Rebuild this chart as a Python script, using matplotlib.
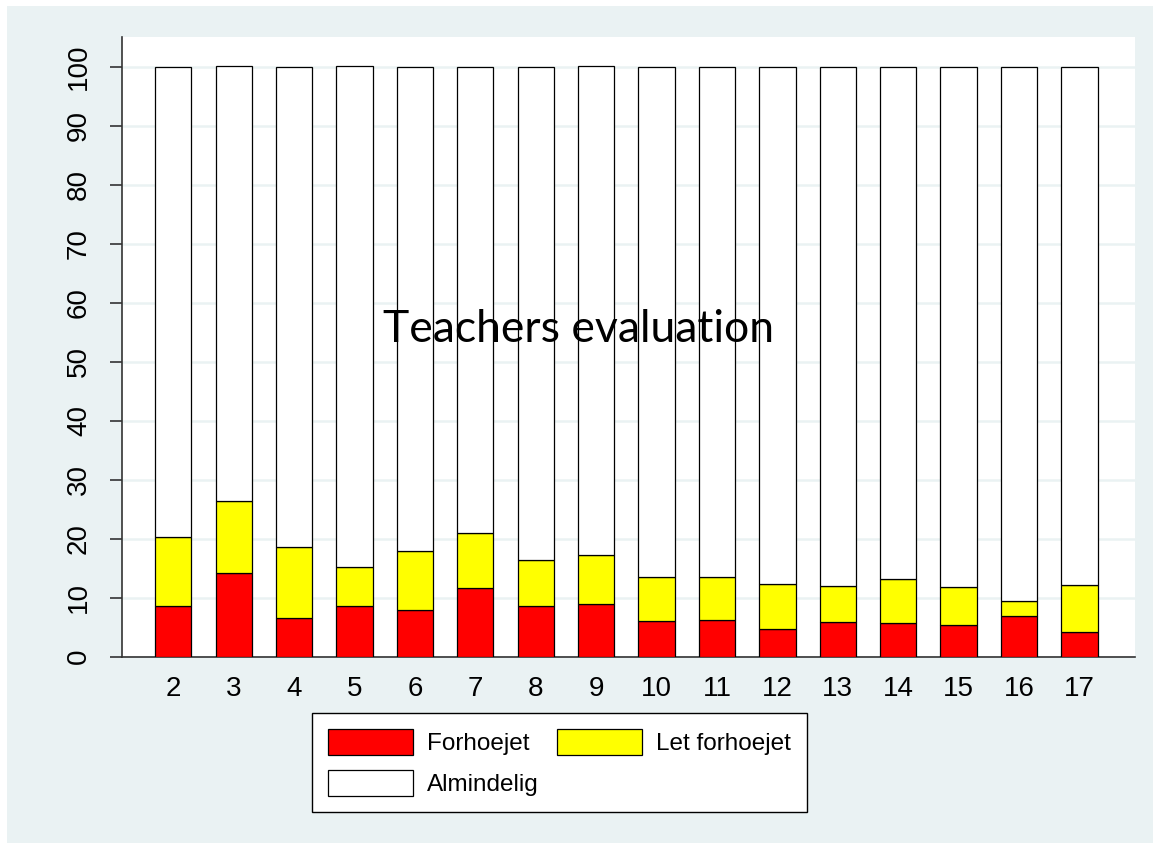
import numpy as np
import matplotlib
matplotlib.use('Agg')
import matplotlib.pyplot as plt
from matplotlib.patches import Rectangle

# Data (percent of pupils)
grades = [2, 3, 4, 5, 6, 7, 8, 9, 10, 11, 12, 13, 14, 15, 16, 17]
forhoejet = [8.6, 14.2, 6.6, 8.5, 7.8, 11.6, 8.5, 8.9, 6.1, 6.2, 4.7, 5.8, 5.6, 5.3, 6.9, 4.1]
top_of_let = [20.3, 26.3, 18.5, 15.1, 17.9, 20.9, 16.4, 17.2, 13.5, 13.4, 12.3, 11.9, 13.2, 11.7, 9.4, 12.2]
let_forhoejet = [t - f for t, f in zip(top_of_let, forhoejet)]
almindelig = [100 - t for t in top_of_let]

series_names = ['Forhoejet', 'Let forhoejet', 'Almindelig']
series_colors = ['#ff0000', '#ffff00', '#ffffff']
title_text = 'Teachers evaluation'

bg = '#eaf2f3'

plt.rcParams['font.family'] = ['Liberation Sans', 'DejaVu Sans']

fig = plt.figure(figsize=(11.53, 8.43), dpi=100, facecolor='white')
fig.patches.append(Rectangle((7 / 1153, 0), 1, 1 - 6 / 843, transform=fig.transFigure,
                             facecolor=bg, edgecolor='none', zorder=-10))

ax = fig.add_axes([122 / 1153, 1 - 656.5 / 843, (1135 - 122) / 1153, (656.5 - 37) / 843])
ax.set_facecolor('white')

x = np.array(grades)
bottom = np.zeros(len(grades))
handles = []
for name, vals, col in zip(series_names, [forhoejet, let_forhoejet, almindelig], series_colors):
    h = ax.bar(x, vals, width=0.6, bottom=bottom, color=col, edgecolor='black',
               linewidth=0.9, label=name, zorder=3)
    handles.append(h)
    bottom = bottom + np.array(vals)

ax.set_xlim(1.15, 17.92)
ax.set_ylim(0, 105)
ax.set_yticks(np.arange(0, 101, 10))
ax.set_xticks(grades)
ax.yaxis.grid(True, color=bg, linewidth=1.8, zorder=0)
ax.set_axisbelow(True)

for s in ['top', 'right']:
    ax.spines[s].set_visible(False)
for s in ['left', 'bottom']:
    ax.spines[s].set_color('#333333')
    ax.spines[s].set_linewidth(1.2)

ax.tick_params(axis='y', length=8.6, width=1.2, color='#333333', pad=13, labelsize=20)
ax.tick_params(axis='x', length=0, pad=14, labelsize=20)
for lbl in ax.get_yticklabels():
    lbl.set_rotation(90)
    lbl.set_va('center')

ax.text(8.70, 53.3, title_text, ha='center', va='baseline', fontsize=32,
        family=['Lato', 'DejaVu Sans'], zorder=5)

# legend filled row by row: Forhoejet, Let forhoejet / Almindelig
order = [0, 2, 1]
leg = fig.legend([handles[i] for i in order], [series_names[i] for i in order],
                 ncol=2, loc='upper left',
                 bbox_to_anchor=(312 / 1153, 0, (807 - 312) / 1153, 1 - 713 / 843),
                 bbox_transform=fig.transFigure, mode='expand', borderaxespad=0,
                 fontsize=17.5, handlelength=3.5, handleheight=1.3, handletextpad=0.6,
                 columnspacing=1.8, labelspacing=0.6, borderpad=0.65,
                 fancybox=False, framealpha=1, edgecolor='black')
leg.get_frame().set_linewidth(1.0)
for p in leg.get_patches():
    p.set_linewidth(0.9)
    p.set_edgecolor('black')

fig.savefig('out.png', dpi=100, facecolor='white')
